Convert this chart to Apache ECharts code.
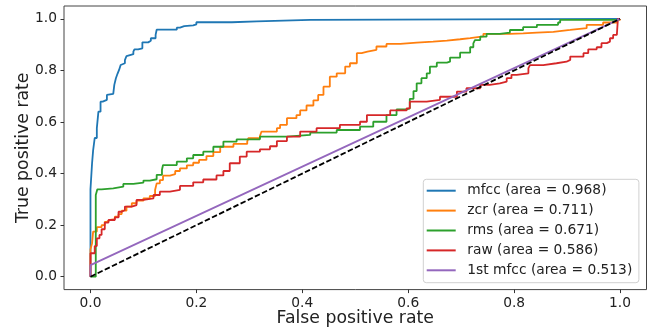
<!DOCTYPE html>
<html><head><meta charset="utf-8">
<script src="https://cdn.jsdelivr.net/npm/echarts@6/dist/echarts.min.js"></script>
<style>html,body{margin:0;padding:0;background:#fff}#c{width:648px;height:331px}</style>
</head><body><div id="c"></div>
<script>
const seriesNames = ['mfcc (area = 0.968)', 'zcr (area = 0.711)', 'rms (area = 0.671)', 'raw (area = 0.586)', '1st mfcc (area = 0.513)'];
const xTickValues = [0, 0.2, 0.4, 0.6, 0.8, 1.0];
const yTickValues = [0, 0.2, 0.4, 0.6, 0.8, 1.0];

const mfccRoc = [[0,0],[0,0.339],[0.003,0.44],[0.005,0.49],[0.008,0.538],[0.012,0.576],[0.015,0.64],[0.019,0.679],[0.023,0.686],[0.031,0.705],[0.034,0.709],[0.043,0.714],[0.045,0.744],[0.048,0.77],[0.051,0.787],[0.054,0.802],[0.057,0.821],[0.06,0.828],[0.065,0.84],[0.068,0.856],[0.071,0.863],[0.081,0.873],[0.083,0.882],[0.09,0.886],[0.098,0.909],[0.109,0.915],[0.114,0.925],[0.123,0.938],[0.125,0.958],[0.163,0.966],[0.169,0.972],[0.177,0.975],[0.194,0.979],[0.2,0.987],[0.267,0.99],[0.314,0.996],[0.415,1.0],[1,1]];

const zcrRoc = [[0,0],[0,0.106],[0.003,0.13],[0.005,0.175],[0.012,0.192],[0.021,0.2],[0.027,0.213],[0.031,0.22],[0.037,0.223],[0.046,0.233],[0.053,0.243],[0.059,0.256],[0.068,0.272],[0.078,0.285],[0.087,0.295],[0.1,0.304],[0.112,0.313],[0.122,0.336],[0.125,0.362],[0.131,0.375],[0.137,0.392],[0.15,0.398],[0.16,0.41],[0.169,0.42],[0.182,0.432],[0.194,0.442],[0.205,0.453],[0.219,0.468],[0.232,0.483],[0.245,0.504],[0.27,0.515],[0.296,0.524],[0.298,0.537],[0.32,0.546],[0.323,0.563],[0.352,0.576],[0.358,0.589],[0.371,0.615],[0.389,0.627],[0.396,0.645],[0.408,0.664],[0.421,0.684],[0.43,0.705],[0.44,0.737],[0.452,0.776],[0.465,0.789],[0.481,0.815],[0.49,0.828],[0.503,0.867],[0.512,0.873],[0.523,0.88],[0.54,0.893],[0.559,0.903],[0.585,0.908],[0.616,0.912],[0.647,0.916],[0.673,0.921],[0.698,0.925],[0.717,0.932],[0.742,0.942],[0.792,0.944],[0.817,0.947],[0.843,0.95],[0.874,0.957],[0.906,0.964],[0.937,0.977],[0.968,0.986],[0.994,0.996],[1,1]];

const rmsRoc = [[0,0],[0.01,0.317],[0.013,0.339],[0.021,0.343],[0.043,0.349],[0.062,0.36],[0.081,0.365],[0.1,0.373],[0.112,0.378],[0.125,0.395],[0.135,0.415],[0.137,0.433],[0.163,0.446],[0.182,0.459],[0.194,0.472],[0.213,0.485],[0.232,0.504],[0.251,0.524],[0.276,0.533],[0.32,0.543],[0.371,0.55],[0.415,0.559],[0.465,0.569],[0.509,0.582],[0.534,0.601],[0.559,0.627],[0.578,0.649],[0.597,0.653],[0.603,0.69],[0.61,0.72],[0.616,0.75],[0.625,0.77],[0.635,0.789],[0.641,0.815],[0.654,0.83],[0.673,0.834],[0.679,0.85],[0.698,0.869],[0.717,0.89],[0.723,0.905],[0.726,0.918],[0.736,0.931],[0.748,0.942],[0.773,0.947],[0.792,0.957],[0.817,0.968],[0.843,0.977],[0.883,0.986],[0.887,0.996],[0.994,0.999],[1,1]];

const rawRoc = [[0,0],[0,0.091],[0.008,0.119],[0.012,0.149],[0.017,0.162],[0.021,0.184],[0.027,0.21],[0.034,0.22],[0.046,0.23],[0.053,0.252],[0.059,0.259],[0.065,0.272],[0.078,0.278],[0.087,0.298],[0.1,0.304],[0.119,0.317],[0.131,0.33],[0.15,0.337],[0.169,0.352],[0.194,0.366],[0.213,0.377],[0.238,0.393],[0.251,0.41],[0.263,0.44],[0.282,0.466],[0.295,0.485],[0.32,0.494],[0.339,0.506],[0.352,0.526],[0.371,0.543],[0.396,0.563],[0.427,0.576],[0.471,0.589],[0.509,0.601],[0.522,0.627],[0.566,0.645],[0.597,0.653],[0.603,0.679],[0.635,0.686],[0.66,0.698],[0.692,0.718],[0.71,0.731],[0.736,0.744],[0.754,0.75],[0.773,0.757],[0.786,0.77],[0.795,0.783],[0.805,0.789],[0.827,0.809],[0.83,0.821],[0.855,0.828],[0.88,0.834],[0.899,0.841],[0.906,0.854],[0.931,0.867],[0.94,0.882],[0.956,0.89],[0.965,0.906],[0.975,0.912],[0.981,0.925],[0.987,0.938],[0.994,0.944],[0.996,1],[1,1]];

const firstMfccRoc = [[0,0],[0,0.045],[1,1]];
const chanceLine = [[0,0],[1,1]];

const colors = ['#1f77b4', '#ff7f0e', '#2ca02c', '#d62728', '#9467bd'];
const FONT = 'DejaVu Sans';

const chart = echarts.init(document.getElementById('c'), null, {renderer: 'canvas'});

function rocSeries(name, data, color, step) {
  return {
    name: name, type: 'line', data: data, step: step,
    symbol: 'none', showSymbol: false, clip: false,
    lineStyle: {color: color, width: 1.8},
    itemStyle: {color: color},
    emphasis: {disabled: true}
  };
}

const tickStyle = {show: true, inside: false, length: 3.5, lineStyle: {color: '#333', width: 1}};
const labelStyle = {margin: 7, fontFamily: FONT, fontSize: 13.8, color: '#222', formatter: v => v.toFixed(1)};

chart.setOption({
  animation: false,
  backgroundColor: '#fff',
  grid: {left: 64, top: 6, width: 582.5, height: 283.6, show: true, borderColor: '#444', borderWidth: 1,
         backgroundColor: 'transparent', containLabel: false, outerBoundsMode: 'none'},
  xAxis: {
    type: 'value', min: -0.05, max: 1.05, position: 'bottom',
    axisLine: {show: false, onZero: false},
    axisTick: Object.assign({customValues: xTickValues}, tickStyle),
    axisLabel: Object.assign({customValues: xTickValues, showMinLabel: true, showMaxLabel: true}, labelStyle),
    splitLine: {show: false},
    name: 'False positive rate', nameLocation: 'middle', nameGap: 20, nameMoveOverlap: false,
    nameTextStyle: {fontFamily: FONT, fontSize: 17.3, color: '#222'}
  },
  yAxis: {
    type: 'value', min: -0.05, max: 1.05, position: 'left',
    axisLine: {show: false, onZero: false},
    axisTick: Object.assign({customValues: yTickValues}, tickStyle),
    axisLabel: Object.assign({customValues: yTickValues, showMinLabel: true, showMaxLabel: true}, labelStyle),
    splitLine: {show: false},
    name: 'True positive rate', nameLocation: 'middle', nameGap: 32, nameRotate: 90, nameMoveOverlap: false,
    nameTextStyle: {fontFamily: FONT, fontSize: 17.3, color: '#222'}
  },
  legend: {
    data: seriesNames,
    orient: 'vertical',
    left: 423.3, top: 179.3,
    padding: [3.4, 6.6, 4.4, 3.4],
    icon: 'rect',
    itemWidth: 29, itemHeight: 2, itemGap: 3.9,
    borderColor: '#d0d0d0', borderWidth: 1, borderRadius: 3,
    backgroundColor: 'rgba(255,255,255,0.8)',
    selectedMode: false,
    textStyle: {fontFamily: FONT, fontSize: 13.8, color: '#222', lineHeight: 16, padding: [0, 0, 0, 6.6]}
  },
  series: [
    rocSeries(seriesNames[0], mfccRoc, colors[0], 'end'),
    rocSeries(seriesNames[1], zcrRoc, colors[1], 'end'),
    rocSeries(seriesNames[2], rmsRoc, colors[2], 'end'),
    rocSeries(seriesNames[3], rawRoc, colors[3], 'end'),
    rocSeries(seriesNames[4], firstMfccRoc, colors[4], false),
    {
      name: 'chance', type: 'line', data: chanceLine,
      symbol: 'none', showSymbol: false, clip: false,
      lineStyle: {color: '#000', width: 1.8, type: [5.55, 2.4]},
      emphasis: {disabled: true}
    }
  ]
});
</script></body></html>
